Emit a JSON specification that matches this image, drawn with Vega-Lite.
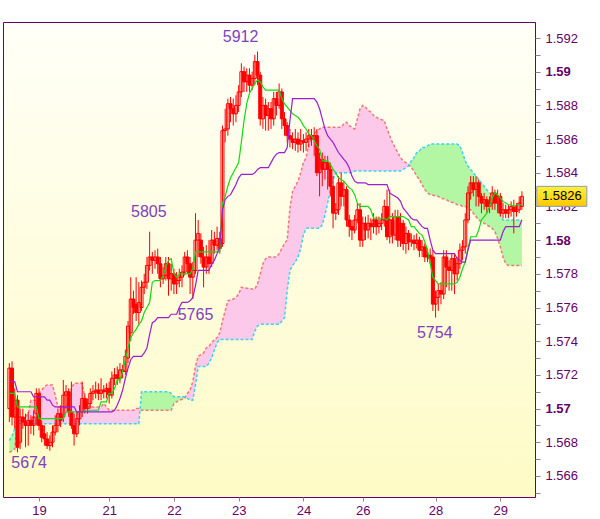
{
"$schema":"https://vega.github.io/schema/vega-lite/v6.json",
"width":532,"height":475,
"autosize":{"type":"none"},
"padding":{"left":3,"top":22,"right":65,"bottom":22},
"background":"#ffffff",
"config":{"view":{"stroke":"#660066","strokeWidth":1,"fill":{"gradient":"linear","x1":0,"y1":0,"x2":0,"y2":1,"stops":[{"offset":0,"color":"#fffff8"},{"offset":1,"color":"#fefbc6"}]}},"font":"Liberation Sans"},
"datasets":{
"bars":[
{"i":0,"o":1.5700,"h":1.5727,"l":1.5692,"c":1.5724,"t":1.5709,"k":1.5716},
{"i":1,"o":1.5724,"h":1.5728,"l":1.5690,"c":1.5695,"t":1.5709,"k":1.5716},
{"i":2,"o":1.5695,"h":1.5712,"l":1.5688,"c":1.5705,"t":1.5709,"k":1.5716},
{"i":3,"o":1.5705,"h":1.5708,"l":1.5674,"c":1.5677,"t":1.5701,"k":1.5710},
{"i":4,"o":1.5680,"h":1.5700,"l":1.5676,"c":1.5695,"t":1.5701,"k":1.5710},
{"i":5,"o":1.5695,"h":1.5700,"l":1.5688,"c":1.5692,"t":1.5701,"k":1.5710},
{"i":6,"o":1.5692,"h":1.5697,"l":1.5677,"c":1.5690,"t":1.5701,"k":1.5710},
{"i":7,"o":1.5690,"h":1.5698,"l":1.5678,"c":1.5693,"t":1.5701,"k":1.5710},
{"i":8,"o":1.5693,"h":1.5696,"l":1.5685,"c":1.5690,"t":1.5701,"k":1.5710},
{"i":9,"o":1.5690,"h":1.5699,"l":1.5684,"c":1.5695,"t":1.5701,"k":1.5707},
{"i":10,"o":1.5697,"h":1.5712,"l":1.5690,"c":1.5709,"t":1.5701,"k":1.5707},
{"i":11,"o":1.5709,"h":1.5712,"l":1.5687,"c":1.5690,"t":1.5694,"k":1.5707},
{"i":12,"o":1.5690,"h":1.5693,"l":1.5680,"c":1.5683,"t":1.5694,"k":1.5707},
{"i":13,"o":1.5685,"h":1.5690,"l":1.5678,"c":1.5682,"t":1.5694,"k":1.5707},
{"i":14,"o":1.5682,"h":1.5686,"l":1.5676,"c":1.5678,"t":1.5694,"k":1.5705},
{"i":15,"o":1.5678,"h":1.5684,"l":1.5675,"c":1.5680,"t":1.5694,"k":1.5705},
{"i":16,"o":1.5680,"h":1.5690,"l":1.5677,"c":1.5686,"t":1.5694,"k":1.5702},
{"i":17,"o":1.5686,"h":1.5696,"l":1.5684,"c":1.5690,"t":1.5694,"k":1.5701},
{"i":18,"o":1.5690,"h":1.5700,"l":1.5686,"c":1.5697,"t":1.5694,"k":1.5701},
{"i":19,"o":1.5697,"h":1.5702,"l":1.5689,"c":1.5693,"t":1.5694,"k":1.5701},
{"i":20,"o":1.5695,"h":1.5717,"l":1.5692,"c":1.5708,"t":1.5694,"k":1.5701},
{"i":21,"o":1.5708,"h":1.5714,"l":1.5700,"c":1.5710,"t":1.5698,"k":1.5701},
{"i":22,"o":1.5710,"h":1.5712,"l":1.5695,"c":1.5698,"t":1.5698,"k":1.5701},
{"i":23,"o":1.5698,"h":1.5716,"l":1.5688,"c":1.5690,"t":1.5698,"k":1.5701},
{"i":24,"o":1.5690,"h":1.5697,"l":1.5678,"c":1.5685,"t":1.5698,"k":1.5701},
{"i":25,"o":1.5685,"h":1.5698,"l":1.5683,"c":1.5694,"t":1.5698,"k":1.5698},
{"i":26,"o":1.5694,"h":1.5702,"l":1.5690,"c":1.5698,"t":1.5698,"k":1.5698},
{"i":27,"o":1.5698,"h":1.5716,"l":1.5695,"c":1.5706,"t":1.5698,"k":1.5698},
{"i":28,"o":1.5706,"h":1.5709,"l":1.5697,"c":1.5700,"t":1.5699,"k":1.5698},
{"i":29,"o":1.5700,"h":1.5706,"l":1.5697,"c":1.5703,"t":1.5699,"k":1.5698},
{"i":30,"o":1.5703,"h":1.5712,"l":1.5700,"c":1.5709,"t":1.5699,"k":1.5698},
{"i":31,"o":1.5709,"h":1.5714,"l":1.5705,"c":1.5710,"t":1.5699,"k":1.5698},
{"i":32,"o":1.5710,"h":1.5716,"l":1.5706,"c":1.5711,"t":1.5699,"k":1.5698},
{"i":33,"o":1.5711,"h":1.5715,"l":1.5705,"c":1.5709,"t":1.5699,"k":1.5698},
{"i":34,"o":1.5709,"h":1.5718,"l":1.5705,"c":1.5711,"t":1.5704,"k":1.5698},
{"i":35,"o":1.5711,"h":1.5714,"l":1.5706,"c":1.5710,"t":1.5704,"k":1.5698},
{"i":36,"o":1.5710,"h":1.5715,"l":1.5706,"c":1.5712,"t":1.5704,"k":1.5698},
{"i":37,"o":1.5712,"h":1.5716,"l":1.5703,"c":1.5708,"t":1.5709,"k":1.5698},
{"i":38,"o":1.5708,"h":1.5722,"l":1.5706,"c":1.5718,"t":1.5709,"k":1.5698},
{"i":39,"o":1.5718,"h":1.5724,"l":1.5714,"c":1.5720,"t":1.5712,"k":1.5699},
{"i":40,"o":1.5720,"h":1.5725,"l":1.5714,"c":1.5718,"t":1.5717,"k":1.5702},
{"i":41,"o":1.5718,"h":1.5727,"l":1.5715,"c":1.5723,"t":1.5717,"k":1.5706},
{"i":42,"o":1.5723,"h":1.5726,"l":1.5718,"c":1.5722,"t":1.5722,"k":1.5711},
{"i":43,"o":1.5722,"h":1.5735,"l":1.5720,"c":1.5731,"t":1.5729,"k":1.5718},
{"i":44,"o":1.5730,"h":1.5752,"l":1.5727,"c":1.5749,"t":1.5736,"k":1.5724},
{"i":45,"o":1.5745,"h":1.5778,"l":1.5740,"c":1.5765,"t":1.5742,"k":1.5729},
{"i":46,"o":1.5765,"h":1.5770,"l":1.5756,"c":1.5760,"t":1.5745,"k":1.5731},
{"i":47,"o":1.5762,"h":1.5778,"l":1.5752,"c":1.5757,"t":1.5747,"k":1.5731},
{"i":48,"o":1.5757,"h":1.5775,"l":1.5750,"c":1.5763,"t":1.5750,"k":1.5731},
{"i":49,"o":1.5760,"h":1.5776,"l":1.5758,"c":1.5772,"t":1.5752,"k":1.5731},
{"i":50,"o":1.5772,"h":1.5780,"l":1.5768,"c":1.5775,"t":1.5757,"k":1.5733},
{"i":51,"o":1.5775,"h":1.5790,"l":1.5771,"c":1.5785,"t":1.5760,"k":1.5736},
{"i":52,"o":1.5785,"h":1.5805,"l":1.5782,"c":1.5790,"t":1.5763,"k":1.5744},
{"i":53,"o":1.5790,"h":1.5793,"l":1.5780,"c":1.5788,"t":1.5775,"k":1.5751},
{"i":54,"o":1.5788,"h":1.5794,"l":1.5783,"c":1.5790,"t":1.5776,"k":1.5752},
{"i":55,"o":1.5790,"h":1.5795,"l":1.5780,"c":1.5786,"t":1.5776,"k":1.5754},
{"i":56,"o":1.5786,"h":1.5790,"l":1.5772,"c":1.5777,"t":1.5776,"k":1.5754},
{"i":57,"o":1.5777,"h":1.5784,"l":1.5774,"c":1.5779,"t":1.5779,"k":1.5754},
{"i":58,"o":1.5779,"h":1.5790,"l":1.5776,"c":1.5786,"t":1.5784,"k":1.5754},
{"i":59,"o":1.5786,"h":1.5790,"l":1.5767,"c":1.5777,"t":1.5788,"k":1.5754},
{"i":60,"o":1.5777,"h":1.5786,"l":1.5770,"c":1.5780,"t":1.5789,"k":1.5756},
{"i":61,"o":1.5780,"h":1.5783,"l":1.5768,"c":1.5774,"t":1.5780,"k":1.5756},
{"i":62,"o":1.5774,"h":1.5781,"l":1.5768,"c":1.5776,"t":1.5778,"k":1.5756},
{"i":63,"o":1.5776,"h":1.5783,"l":1.5772,"c":1.5778,"t":1.5780,"k":1.5760},
{"i":64,"o":1.5778,"h":1.5785,"l":1.5772,"c":1.5781,"t":1.5780,"k":1.5763},
{"i":65,"o":1.5781,"h":1.5793,"l":1.5779,"c":1.5790,"t":1.5780,"k":1.5763},
{"i":66,"o":1.5790,"h":1.5794,"l":1.5780,"c":1.5786,"t":1.5780,"k":1.5763},
{"i":67,"o":1.5786,"h":1.5790,"l":1.5768,"c":1.5778,"t":1.5780,"k":1.5764},
{"i":68,"o":1.5778,"h":1.5787,"l":1.5765,"c":1.5782,"t":1.5783,"k":1.5766},
{"i":69,"o":1.5782,"h":1.5816,"l":1.5780,"c":1.5800,"t":1.5793,"k":1.5773},
{"i":70,"o":1.5800,"h":1.5812,"l":1.5790,"c":1.5804,"t":1.5793,"k":1.5782},
{"i":71,"o":1.5800,"h":1.5804,"l":1.5786,"c":1.5790,"t":1.5793,"k":1.5782},
{"i":72,"o":1.5790,"h":1.5796,"l":1.5772,"c":1.5784,"t":1.5793,"k":1.5782},
{"i":73,"o":1.5784,"h":1.5797,"l":1.5780,"c":1.5790,"t":1.5793,"k":1.5782},
{"i":74,"o":1.5790,"h":1.5800,"l":1.5780,"c":1.5786,"t":1.5793,"k":1.5782},
{"i":75,"o":1.5786,"h":1.5806,"l":1.5784,"c":1.5800,"t":1.5793,"k":1.5786},
{"i":76,"o":1.5800,"h":1.5805,"l":1.5792,"c":1.5797,"t":1.5793,"k":1.5788},
{"i":77,"o":1.5797,"h":1.5808,"l":1.5794,"c":1.5801,"t":1.5793,"k":1.5792},
{"i":78,"o":1.5801,"h":1.5805,"l":1.5792,"c":1.5795,"t":1.5793,"k":1.5796},
{"i":79,"o":1.5798,"h":1.5868,"l":1.5796,"c":1.5865,"t":1.5822,"k":1.5818},
{"i":80,"o":1.5865,"h":1.5878,"l":1.5858,"c":1.5866,"t":1.5826,"k":1.5824},
{"i":81,"o":1.5866,"h":1.5884,"l":1.5862,"c":1.5881,"t":1.5832,"k":1.5826},
{"i":82,"o":1.5881,"h":1.5885,"l":1.5870,"c":1.5878,"t":1.5837,"k":1.5827},
{"i":83,"o":1.5878,"h":1.5884,"l":1.5868,"c":1.5875,"t":1.5840,"k":1.5830},
{"i":84,"o":1.5875,"h":1.5886,"l":1.5870,"c":1.5880,"t":1.5843,"k":1.5833},
{"i":85,"o":1.5880,"h":1.5892,"l":1.5876,"c":1.5888,"t":1.5846,"k":1.5837},
{"i":86,"o":1.5888,"h":1.5905,"l":1.5885,"c":1.5900,"t":1.5858,"k":1.5839},
{"i":87,"o":1.5900,"h":1.5903,"l":1.5888,"c":1.5894,"t":1.5871,"k":1.5839},
{"i":88,"o":1.5894,"h":1.5902,"l":1.5888,"c":1.5898,"t":1.5881,"k":1.5839},
{"i":89,"o":1.5898,"h":1.5902,"l":1.5888,"c":1.5892,"t":1.5887,"k":1.5839},
{"i":90,"o":1.5892,"h":1.5900,"l":1.5889,"c":1.5896,"t":1.5890,"k":1.5839},
{"i":91,"o":1.5896,"h":1.5910,"l":1.5892,"c":1.5906,"t":1.5893,"k":1.5840},
{"i":92,"o":1.5906,"h":1.5912,"l":1.5892,"c":1.5898,"t":1.5895,"k":1.5842},
{"i":93,"o":1.5898,"h":1.5900,"l":1.5868,"c":1.5872,"t":1.5894,"k":1.5843},
{"i":94,"o":1.5872,"h":1.5885,"l":1.5866,"c":1.5880,"t":1.5891,"k":1.5843},
{"i":95,"o":1.5880,"h":1.5884,"l":1.5865,"c":1.5874,"t":1.5889,"k":1.5843},
{"i":96,"o":1.5874,"h":1.5882,"l":1.5865,"c":1.5878,"t":1.5889,"k":1.5843},
{"i":97,"o":1.5878,"h":1.5882,"l":1.5866,"c":1.5872,"t":1.5889,"k":1.5846},
{"i":98,"o":1.5872,"h":1.5888,"l":1.5868,"c":1.5884,"t":1.5889,"k":1.5849},
{"i":99,"o":1.5884,"h":1.5888,"l":1.5874,"c":1.5880,"t":1.5889,"k":1.5851},
{"i":100,"o":1.5880,"h":1.5893,"l":1.5878,"c":1.5888,"t":1.5889,"k":1.5852},
{"i":101,"o":1.5888,"h":1.5890,"l":1.5866,"c":1.5872,"t":1.5884,"k":1.5852},
{"i":102,"o":1.5872,"h":1.5876,"l":1.5862,"c":1.5868,"t":1.5881,"k":1.5852},
{"i":103,"o":1.5868,"h":1.5870,"l":1.5858,"c":1.5862,"t":1.5879,"k":1.5855},
{"i":104,"o":1.5862,"h":1.5866,"l":1.5855,"c":1.5860,"t":1.5877,"k":1.5871},
{"i":105,"o":1.5860,"h":1.5864,"l":1.5854,"c":1.5858,"t":1.5875,"k":1.5884},
{"i":106,"o":1.5858,"h":1.5866,"l":1.5853,"c":1.5860,"t":1.5874,"k":1.5884},
{"i":107,"o":1.5860,"h":1.5864,"l":1.5852,"c":1.5857,"t":1.5873,"k":1.5884},
{"i":108,"o":1.5857,"h":1.5866,"l":1.5853,"c":1.5859,"t":1.5871,"k":1.5884},
{"i":109,"o":1.5859,"h":1.5863,"l":1.5852,"c":1.5858,"t":1.5868,"k":1.5884},
{"i":110,"o":1.5858,"h":1.5864,"l":1.5853,"c":1.5860,"t":1.5866,"k":1.5884},
{"i":111,"o":1.5860,"h":1.5866,"l":1.5855,"c":1.5862,"t":1.5863,"k":1.5884},
{"i":112,"o":1.5862,"h":1.5866,"l":1.5856,"c":1.5860,"t":1.5862,"k":1.5884},
{"i":113,"o":1.5860,"h":1.5867,"l":1.5850,"c":1.5862,"t":1.5859,"k":1.5884},
{"i":114,"o":1.5862,"h":1.5866,"l":1.5838,"c":1.5840,"t":1.5856,"k":1.5882},
{"i":115,"o":1.5840,"h":1.5852,"l":1.5826,"c":1.5848,"t":1.5854,"k":1.5878},
{"i":116,"o":1.5848,"h":1.5852,"l":1.5832,"c":1.5842,"t":1.5847,"k":1.5872},
{"i":117,"o":1.5842,"h":1.5850,"l":1.5836,"c":1.5846,"t":1.5847,"k":1.5866},
{"i":118,"o":1.5846,"h":1.5850,"l":1.5830,"c":1.5842,"t":1.5847,"k":1.5862},
{"i":119,"o":1.5842,"h":1.5846,"l":1.5826,"c":1.5832,"t":1.5845,"k":1.5860},
{"i":120,"o":1.5832,"h":1.5838,"l":1.5807,"c":1.5816,"t":1.5842,"k":1.5858},
{"i":121,"o":1.5816,"h":1.5822,"l":1.5812,"c":1.5818,"t":1.5840,"k":1.5855},
{"i":122,"o":1.5818,"h":1.5838,"l":1.5815,"c":1.5834,"t":1.5837,"k":1.5852},
{"i":123,"o":1.5834,"h":1.5840,"l":1.5820,"c":1.5826,"t":1.5836,"k":1.5850},
{"i":124,"o":1.5826,"h":1.5835,"l":1.5820,"c":1.5830,"t":1.5835,"k":1.5848},
{"i":125,"o":1.5830,"h":1.5832,"l":1.5808,"c":1.5812,"t":1.5833,"k":1.5846},
{"i":126,"o":1.5812,"h":1.5815,"l":1.5802,"c":1.5808,"t":1.5831,"k":1.5843},
{"i":127,"o":1.5808,"h":1.5812,"l":1.5800,"c":1.5806,"t":1.5830,"k":1.5838},
{"i":128,"o":1.5806,"h":1.5815,"l":1.5804,"c":1.5812,"t":1.5827,"k":1.5835},
{"i":129,"o":1.5812,"h":1.5822,"l":1.5810,"c":1.5818,"t":1.5822,"k":1.5834},
{"i":130,"o":1.5818,"h":1.5822,"l":1.5796,"c":1.5800,"t":1.5820,"k":1.5834},
{"i":131,"o":1.5800,"h":1.5814,"l":1.5796,"c":1.5810,"t":1.5820,"k":1.5834},
{"i":132,"o":1.5810,"h":1.5814,"l":1.5800,"c":1.5806,"t":1.5820,"k":1.5834},
{"i":133,"o":1.5806,"h":1.5815,"l":1.5801,"c":1.5810,"t":1.5820,"k":1.5833},
{"i":134,"o":1.5810,"h":1.5813,"l":1.5800,"c":1.5808,"t":1.5818,"k":1.5833},
{"i":135,"o":1.5808,"h":1.5816,"l":1.5804,"c":1.5812,"t":1.5813,"k":1.5833},
{"i":136,"o":1.5812,"h":1.5814,"l":1.5803,"c":1.5808,"t":1.5813,"k":1.5833},
{"i":137,"o":1.5808,"h":1.5814,"l":1.5804,"c":1.5810,"t":1.5813,"k":1.5833},
{"i":138,"o":1.5810,"h":1.5816,"l":1.5806,"c":1.5812,"t":1.5813,"k":1.5833},
{"i":139,"o":1.5812,"h":1.5824,"l":1.5808,"c":1.5820,"t":1.5813,"k":1.5833},
{"i":140,"o":1.5820,"h":1.5830,"l":1.5800,"c":1.5802,"t":1.5812,"k":1.5833},
{"i":141,"o":1.5802,"h":1.5830,"l":1.5798,"c":1.5812,"t":1.5814,"k":1.5828},
{"i":142,"o":1.5812,"h":1.5816,"l":1.5798,"c":1.5803,"t":1.5814,"k":1.5827},
{"i":143,"o":1.5803,"h":1.5818,"l":1.5800,"c":1.5814,"t":1.5814,"k":1.5826},
{"i":144,"o":1.5814,"h":1.5818,"l":1.5796,"c":1.5800,"t":1.5814,"k":1.5825},
{"i":145,"o":1.5800,"h":1.5816,"l":1.5796,"c":1.5810,"t":1.5814,"k":1.5823},
{"i":146,"o":1.5810,"h":1.5812,"l":1.5794,"c":1.5798,"t":1.5814,"k":1.5819},
{"i":147,"o":1.5798,"h":1.5808,"l":1.5792,"c":1.5804,"t":1.5813,"k":1.5817},
{"i":148,"o":1.5804,"h":1.5806,"l":1.5794,"c":1.5799,"t":1.5812,"k":1.5815},
{"i":149,"o":1.5799,"h":1.5804,"l":1.5796,"c":1.5800,"t":1.5808,"k":1.5813},
{"i":150,"o":1.5800,"h":1.5803,"l":1.5794,"c":1.5798,"t":1.5808,"k":1.5812},
{"i":151,"o":1.5798,"h":1.5804,"l":1.5795,"c":1.5800,"t":1.5806,"k":1.5812},
{"i":152,"o":1.5800,"h":1.5802,"l":1.5790,"c":1.5794,"t":1.5804,"k":1.5810},
{"i":153,"o":1.5794,"h":1.5800,"l":1.5790,"c":1.5796,"t":1.5803,"k":1.5808},
{"i":154,"o":1.5796,"h":1.5798,"l":1.5787,"c":1.5790,"t":1.5799,"k":1.5807},
{"i":155,"o":1.5790,"h":1.5795,"l":1.5787,"c":1.5791,"t":1.5794,"k":1.5807},
{"i":156,"o":1.5791,"h":1.5795,"l":1.5786,"c":1.5789,"t":1.5786,"k":1.5800},
{"i":157,"o":1.5790,"h":1.5794,"l":1.5758,"c":1.5762,"t":1.5778,"k":1.5794},
{"i":158,"o":1.5762,"h":1.5770,"l":1.5754,"c":1.5766,"t":1.5776,"k":1.5792},
{"i":159,"o":1.5766,"h":1.5774,"l":1.5758,"c":1.5770,"t":1.5774,"k":1.5792},
{"i":160,"o":1.5770,"h":1.5775,"l":1.5762,"c":1.5768,"t":1.5774,"k":1.5792},
{"i":161,"o":1.5768,"h":1.5794,"l":1.5765,"c":1.5790,"t":1.5774,"k":1.5792},
{"i":162,"o":1.5790,"h":1.5794,"l":1.5772,"c":1.5784,"t":1.5774,"k":1.5792},
{"i":163,"o":1.5784,"h":1.5788,"l":1.5770,"c":1.5782,"t":1.5774,"k":1.5792},
{"i":164,"o":1.5782,"h":1.5792,"l":1.5770,"c":1.5789,"t":1.5774,"k":1.5792},
{"i":165,"o":1.5789,"h":1.5792,"l":1.5768,"c":1.5780,"t":1.5774,"k":1.5792},
{"i":166,"o":1.5780,"h":1.5790,"l":1.5776,"c":1.5786,"t":1.5775,"k":1.5789},
{"i":167,"o":1.5786,"h":1.5798,"l":1.5783,"c":1.5794,"t":1.5778,"k":1.5788},
{"i":168,"o":1.5794,"h":1.5800,"l":1.5788,"c":1.5796,"t":1.5783,"k":1.5787},
{"i":169,"o":1.5796,"h":1.5816,"l":1.5792,"c":1.5812,"t":1.5787,"k":1.5787},
{"i":170,"o":1.5812,"h":1.5832,"l":1.5810,"c":1.5828,"t":1.5795,"k":1.5794},
{"i":171,"o":1.5828,"h":1.5838,"l":1.5824,"c":1.5834,"t":1.5802,"k":1.5800},
{"i":172,"o":1.5834,"h":1.5838,"l":1.5826,"c":1.5830,"t":1.5802,"k":1.5800},
{"i":173,"o":1.5830,"h":1.5838,"l":1.5820,"c":1.5834,"t":1.5802,"k":1.5800},
{"i":174,"o":1.5834,"h":1.5836,"l":1.5820,"c":1.5826,"t":1.5806,"k":1.5800},
{"i":175,"o":1.5826,"h":1.5828,"l":1.5816,"c":1.5822,"t":1.5812,"k":1.5800},
{"i":176,"o":1.5822,"h":1.5828,"l":1.5818,"c":1.5824,"t":1.5814,"k":1.5800},
{"i":177,"o":1.5824,"h":1.5826,"l":1.5816,"c":1.5820,"t":1.5816,"k":1.5800},
{"i":178,"o":1.5820,"h":1.5826,"l":1.5816,"c":1.5822,"t":1.5820,"k":1.5800},
{"i":179,"o":1.5822,"h":1.5832,"l":1.5818,"c":1.5828,"t":1.5825,"k":1.5800},
{"i":180,"o":1.5828,"h":1.5830,"l":1.5818,"c":1.5822,"t":1.5828,"k":1.5800},
{"i":181,"o":1.5822,"h":1.5830,"l":1.5816,"c":1.5826,"t":1.5827,"k":1.5800},
{"i":182,"o":1.5826,"h":1.5828,"l":1.5814,"c":1.5816,"t":1.5825,"k":1.5800},
{"i":183,"o":1.5816,"h":1.5822,"l":1.5813,"c":1.5818,"t":1.5823,"k":1.5805},
{"i":184,"o":1.5818,"h":1.5821,"l":1.5813,"c":1.5816,"t":1.5822,"k":1.5808},
{"i":185,"o":1.5816,"h":1.5821,"l":1.5813,"c":1.5818,"t":1.5821,"k":1.5808},
{"i":186,"o":1.5818,"h":1.5823,"l":1.5814,"c":1.5820,"t":1.5821,"k":1.5808},
{"i":187,"o":1.5820,"h":1.5824,"l":1.5804,"c":1.5817,"t":1.5820,"k":1.5808},
{"i":188,"o":1.5817,"h":1.5822,"l":1.5814,"c":1.5818,"t":1.5821,"k":1.5808},
{"i":189,"o":1.5818,"h":1.5826,"l":1.5816,"c":1.5822,"t":1.5821,"k":1.5808},
{"i":190,"o":1.5820,"h":1.5829,"l":1.5818,"c":1.5826,"t":1.5821,"k":1.5812}
],
"cloud":[
{"i":0,"a":1.5681,"b":1.5674,"s":"g0"},
{"i":1,"a":1.5684,"b":1.5675,"s":"g0"},
{"i":2,"a":1.5688,"b":1.5676,"s":"g0"},
{"i":2.86,"a":1.56906,"b":1.56906,"s":"g0"},
{"i":2.86,"a":1.56906,"b":1.56906,"s":"p1"},
{"i":3,"a":1.5691,"b":1.5693,"s":"p1"},
{"i":5,"a":1.5691,"b":1.5693,"s":"p1"},
{"i":6,"a":1.5691,"b":1.5695,"s":"p1"},
{"i":7,"a":1.5691,"b":1.5697,"s":"p1"},
{"i":8,"a":1.5691,"b":1.5705,"s":"p1"},
{"i":10,"a":1.5691,"b":1.5705,"s":"p1"},
{"i":11,"a":1.5691,"b":1.5709,"s":"p1"},
{"i":12,"a":1.5691,"b":1.5711,"s":"p1"},
{"i":13,"a":1.5691,"b":1.5713,"s":"p1"},
{"i":14,"a":1.5691,"b":1.5714,"s":"p1"},
{"i":16,"a":1.5691,"b":1.5714,"s":"p1"},
{"i":17,"a":1.5691,"b":1.5708,"s":"p1"},
{"i":18,"a":1.5691,"b":1.5701,"s":"p1"},
{"i":21,"a":1.5691,"b":1.5701,"s":"p1"},
{"i":22,"a":1.5691,"b":1.5703,"s":"p1"},
{"i":23,"a":1.5691,"b":1.5712,"s":"p1"},
{"i":24,"a":1.5691,"b":1.5715,"s":"p1"},
{"i":27,"a":1.5691,"b":1.5715,"s":"p1"},
{"i":28,"a":1.5691,"b":1.5706,"s":"p1"},
{"i":29,"a":1.5691,"b":1.5701,"s":"p1"},
{"i":34,"a":1.5691,"b":1.5701,"s":"p1"},
{"i":35,"a":1.5691,"b":1.5703,"s":"p1"},
{"i":36,"a":1.5691,"b":1.5701,"s":"p1"},
{"i":37,"a":1.5691,"b":1.5699,"s":"p1"},
{"i":46,"a":1.5691,"b":1.5699,"s":"p1"},
{"i":47,"a":1.5691,"b":1.5700,"s":"p1"},
{"i":48,"a":1.5691,"b":1.5700,"s":"p1"},
{"i":48.45,"a":1.569955,"b":1.569955,"s":"p1"},
{"i":48.45,"a":1.569955,"b":1.569955,"s":"g2"},
{"i":49,"a":1.5710,"b":1.5699,"s":"g2"},
{"i":59,"a":1.5710,"b":1.5699,"s":"g2"},
{"i":60,"a":1.5709,"b":1.5699,"s":"g2"},
{"i":61,"a":1.5707,"b":1.5703,"s":"g2"},
{"i":62,"a":1.5707,"b":1.5704,"s":"g2"},
{"i":63,"a":1.5707,"b":1.5705,"s":"g2"},
{"i":65,"a":1.5707,"b":1.5706,"s":"g2"},
{"i":65.25,"a":1.570675,"b":1.570675,"s":"g2"},
{"i":65.25,"a":1.570675,"b":1.570675,"s":"p3"},
{"i":66,"a":1.5706,"b":1.5709,"s":"p3"},
{"i":67,"a":1.5705,"b":1.5711,"s":"p3"},
{"i":68,"a":1.5705,"b":1.5716,"s":"p3"},
{"i":69,"a":1.5714,"b":1.5725,"s":"p3"},
{"i":70,"a":1.5725,"b":1.5731,"s":"p3"},
{"i":71,"a":1.5725,"b":1.5732,"s":"p3"},
{"i":72,"a":1.5725,"b":1.5733,"s":"p3"},
{"i":73,"a":1.5725,"b":1.5736,"s":"p3"},
{"i":74,"a":1.5727,"b":1.5737,"s":"p3"},
{"i":75,"a":1.5730,"b":1.5739,"s":"p3"},
{"i":76,"a":1.5735,"b":1.5741,"s":"p3"},
{"i":77,"a":1.5739,"b":1.5742,"s":"p3"},
{"i":78,"a":1.5741,"b":1.5745,"s":"p3"},
{"i":79,"a":1.5741,"b":1.5752,"s":"p3"},
{"i":80,"a":1.5741,"b":1.5758,"s":"p3"},
{"i":81,"a":1.5741,"b":1.5764,"s":"p3"},
{"i":83,"a":1.5741,"b":1.5765,"s":"p3"},
{"i":84,"a":1.5741,"b":1.5766,"s":"p3"},
{"i":85,"a":1.5741,"b":1.5768,"s":"p3"},
{"i":86,"a":1.5741,"b":1.5772,"s":"p3"},
{"i":90,"a":1.5741,"b":1.5771,"s":"p3"},
{"i":91,"a":1.5746,"b":1.5771,"s":"p3"},
{"i":92,"a":1.5749,"b":1.5774,"s":"p3"},
{"i":93,"a":1.5750,"b":1.5780,"s":"p3"},
{"i":94,"a":1.5750,"b":1.5786,"s":"p3"},
{"i":95,"a":1.5750,"b":1.5789,"s":"p3"},
{"i":96,"a":1.5750,"b":1.5790,"s":"p3"},
{"i":99,"a":1.5750,"b":1.5790,"s":"p3"},
{"i":100,"a":1.5750,"b":1.5792,"s":"p3"},
{"i":101,"a":1.5752,"b":1.5795,"s":"p3"},
{"i":102,"a":1.5754,"b":1.5798,"s":"p3"},
{"i":103,"a":1.5770,"b":1.5800,"s":"p3"},
{"i":104,"a":1.5782,"b":1.5819,"s":"p3"},
{"i":105,"a":1.5785,"b":1.5829,"s":"p3"},
{"i":106,"a":1.5787,"b":1.5832,"s":"p3"},
{"i":107,"a":1.5790,"b":1.5835,"s":"p3"},
{"i":108,"a":1.5795,"b":1.5840,"s":"p3"},
{"i":109,"a":1.5803,"b":1.5846,"s":"p3"},
{"i":110,"a":1.5807,"b":1.5849,"s":"p3"},
{"i":111,"a":1.5807,"b":1.5857,"s":"p3"},
{"i":112,"a":1.5807,"b":1.5860,"s":"p3"},
{"i":113,"a":1.5807,"b":1.5863,"s":"p3"},
{"i":114,"a":1.5807,"b":1.5865,"s":"p3"},
{"i":115,"a":1.5807,"b":1.5866,"s":"p3"},
{"i":116,"a":1.5809,"b":1.5867,"s":"p3"},
{"i":117,"a":1.5815,"b":1.5867,"s":"p3"},
{"i":118,"a":1.5822,"b":1.5867,"s":"p3"},
{"i":119,"a":1.5830,"b":1.5867,"s":"p3"},
{"i":120,"a":1.5836,"b":1.5867,"s":"p3"},
{"i":121,"a":1.5840,"b":1.5867,"s":"p3"},
{"i":123,"a":1.5840,"b":1.5867,"s":"p3"},
{"i":124,"a":1.5840,"b":1.5869,"s":"p3"},
{"i":125,"a":1.5840,"b":1.5870,"s":"p3"},
{"i":126,"a":1.5840,"b":1.5868,"s":"p3"},
{"i":127,"a":1.5840,"b":1.5867,"s":"p3"},
{"i":128,"a":1.5841,"b":1.5866,"s":"p3"},
{"i":129,"a":1.5841,"b":1.5872,"s":"p3"},
{"i":130,"a":1.5841,"b":1.5878,"s":"p3"},
{"i":131,"a":1.5841,"b":1.5880,"s":"p3"},
{"i":132,"a":1.5841,"b":1.5879,"s":"p3"},
{"i":133,"a":1.5841,"b":1.5877,"s":"p3"},
{"i":134,"a":1.5841,"b":1.5876,"s":"p3"},
{"i":135,"a":1.5841,"b":1.5874,"s":"p3"},
{"i":136,"a":1.5841,"b":1.5873,"s":"p3"},
{"i":137,"a":1.5841,"b":1.5872,"s":"p3"},
{"i":139,"a":1.5841,"b":1.5871,"s":"p3"},
{"i":140,"a":1.5841,"b":1.5866,"s":"p3"},
{"i":141,"a":1.5841,"b":1.5862,"s":"p3"},
{"i":142,"a":1.5841,"b":1.5858,"s":"p3"},
{"i":143,"a":1.5841,"b":1.5855,"s":"p3"},
{"i":144,"a":1.5841,"b":1.5852,"s":"p3"},
{"i":145,"a":1.5841,"b":1.5849,"s":"p3"},
{"i":146,"a":1.5842,"b":1.5847,"s":"p3"},
{"i":147,"a":1.5843,"b":1.5846,"s":"p3"},
{"i":148,"a":1.5844,"b":1.5845,"s":"p3"},
{"i":148.2,"a":1.58446,"b":1.58446,"s":"p3"},
{"i":148.2,"a":1.58446,"b":1.58446,"s":"g4"},
{"i":149,"a":1.5847,"b":1.5843,"s":"g4"},
{"i":150,"a":1.5849,"b":1.5841,"s":"g4"},
{"i":151,"a":1.5852,"b":1.5838,"s":"g4"},
{"i":152,"a":1.5853,"b":1.5836,"s":"g4"},
{"i":153,"a":1.5855,"b":1.5833,"s":"g4"},
{"i":154,"a":1.5855,"b":1.5830,"s":"g4"},
{"i":155,"a":1.5856,"b":1.5828,"s":"g4"},
{"i":156,"a":1.5857,"b":1.5827,"s":"g4"},
{"i":159,"a":1.5857,"b":1.5826,"s":"g4"},
{"i":160,"a":1.5857,"b":1.5825,"s":"g4"},
{"i":162,"a":1.5857,"b":1.5824,"s":"g4"},
{"i":163,"a":1.5857,"b":1.5823,"s":"g4"},
{"i":165,"a":1.5857,"b":1.5822,"s":"g4"},
{"i":166,"a":1.5857,"b":1.5821,"s":"g4"},
{"i":167,"a":1.5856,"b":1.5821,"s":"g4"},
{"i":168,"a":1.5852,"b":1.5820,"s":"g4"},
{"i":169,"a":1.5847,"b":1.5820,"s":"g4"},
{"i":170,"a":1.5844,"b":1.5819,"s":"g4"},
{"i":171,"a":1.5842,"b":1.5818,"s":"g4"},
{"i":172,"a":1.5840,"b":1.5816,"s":"g4"},
{"i":173,"a":1.5838,"b":1.5814,"s":"g4"},
{"i":174,"a":1.5836,"b":1.5812,"s":"g4"},
{"i":175,"a":1.5834,"b":1.5811,"s":"g4"},
{"i":176,"a":1.5832,"b":1.5810,"s":"g4"},
{"i":177,"a":1.5830,"b":1.5809,"s":"g4"},
{"i":178,"a":1.5828,"b":1.5808,"s":"g4"},
{"i":179,"a":1.5827,"b":1.5807,"s":"g4"},
{"i":180,"a":1.5826,"b":1.5805,"s":"g4"},
{"i":181,"a":1.5822,"b":1.5801,"s":"g4"},
{"i":182,"a":1.5815,"b":1.5796,"s":"g4"},
{"i":183,"a":1.5812,"b":1.5790,"s":"g4"},
{"i":184,"a":1.5812,"b":1.5786,"s":"g4"},
{"i":185,"a":1.5812,"b":1.5785,"s":"g4"},
{"i":190,"a":1.5812,"b":1.5785,"s":"g4"}
],
"notes":[
{"i":7.3,"p":1.56677,"t":"5674"},
{"i":51.7,"p":1.58166,"t":"5805"},
{"i":69.0,"p":1.57555,"t":"5765"},
{"i":85.7,"p":1.59205,"t":"5912"},
{"i":157.7,"p":1.57448,"t":"5754"}
],
"last":[{"i":204.8,"p":1.5826,"t":"1.5826"}]
},
"encoding":{
"x":{"field":"i","type":"quantitative","title":null,"scale":{"domain":[-0.5,193],"nice":false,"zero":false},
"axis":{"values":[11,37,61,85,109,131,158,182],"tickCount":40,"labelExpr":"datum.value==11?'19':datum.value==37?'21':datum.value==61?'22':datum.value==85?'23':datum.value==109?'24':datum.value==131?'26':datum.value==158?'28':'29'","grid":false,"domain":false,"ticks":true,"tickSize":4,"tickColor":"#9a7a9a","labelColor":"#660066","labelFont":"Liberation Sans","labelFontSize":13,"labelPadding":3,"labelOverlap":false}}
},
"layer":[
{"data":{"name":"cloud"},"mark":{"type":"area","opacity":1},
"encoding":{
"y":{"field":"a","type":"quantitative","title":null,"scale":{"domain":[1.56475,1.59295],"nice":false,"zero":false},
"axis":{"orient":"right","tickCount":60,"values":[1.565,1.566,1.567,1.568,1.569,1.57,1.571,1.572,1.573,1.574,1.575,1.576,1.577,1.578,1.579,1.58,1.581,1.582,1.583,1.584,1.585,1.586,1.587,1.588,1.589,1.59,1.591,1.592],
"labelExpr":"round(datum.value*1000)%2==0?format(datum.value,'.4~r'):''",
"labelFontWeight":{"condition":{"test":"round(datum.value*1000)%10==0","value":"bold"},"value":"normal"},
"labelOverlap":false,"labelFlush":false,
"grid":false,"domain":false,"tickSize":5,"tickColor":"#9a7a9a","labelColor":"#660066","labelFont":"Liberation Sans","labelFontSize":13,"labelPadding":5}},
"y2":{"field":"b"},
"color":{"field":"s","type":"nominal","scale":{"domain":["g0","p1","g2","p3","g4"],"range":["#b3f6a3","#fcc9ea","#b3f6a3","#fcc9ea","#b3f6a3"]},"legend":null}}},
{"data":{"name":"cloud"},"mark":{"type":"line","color":"#f07878","strokeDash":[3,2],"strokeWidth":1.5},
"encoding":{"y":{"field":"b","type":"quantitative","title":null,"scale":{"domain":[1.56475,1.59295],"nice":false,"zero":false}}}},
{"data":{"name":"cloud"},"mark":{"type":"line","color":"#38d4f0","strokeDash":[3,2],"strokeWidth":1.5},
"encoding":{"y":{"field":"a","type":"quantitative","title":null,"scale":{"domain":[1.56475,1.59295],"nice":false,"zero":false}}}},
{"data":{"name":"bars"},"mark":{"type":"rule","color":"#ff0000","strokeWidth":1},
"encoding":{"y":{"field":"l","type":"quantitative","title":null,"scale":{"domain":[1.56475,1.59295],"nice":false,"zero":false}},"y2":{"field":"h"}}},
{"data":{"name":"bars"},"mark":{"type":"bar","width":3,"stroke":"#ff0000","strokeWidth":1},
"encoding":{"y":{"field":"o","type":"quantitative","title":null,"scale":{"domain":[1.56475,1.59295],"nice":false,"zero":false}},"y2":{"field":"c"},
"fill":{"condition":{"test":"datum.c < datum.o","value":"#ff0000"},"value":"transparent"}}},
{"data":{"name":"bars"},"mark":{"type":"line","color":"#14d814","strokeWidth":1.2},
"encoding":{"y":{"field":"t","type":"quantitative","title":null,"scale":{"domain":[1.56475,1.59295],"nice":false,"zero":false}}}},
{"data":{"name":"bars"},"mark":{"type":"line","color":"#9a1fd0","strokeWidth":1.2},
"encoding":{"y":{"field":"k","type":"quantitative","title":null,"scale":{"domain":[1.56475,1.59295],"nice":false,"zero":false}}}},
{"data":{"name":"notes"},"mark":{"type":"text","font":"Liberation Sans","fontSize":16,"color":"#7f3fbf","align":"center","baseline":"middle"},
"encoding":{"y":{"field":"p","type":"quantitative","title":null,"scale":{"domain":[1.56475,1.59295],"nice":false,"zero":false}},"text":{"field":"t"}}},
{"data":{"name":"last"},"mark":{"type":"point","shape":"M-1,-0.4L1,-0.4L1,0.4L-1,0.4Z","size":2500,"filled":true,"opacity":1,
"fill":{"gradient":"linear","x1":0,"y1":0,"x2":0,"y2":1,"stops":[{"offset":0,"color":"#fff23a"},{"offset":1,"color":"#ffc800"}]},"stroke":"#8b9cb0","strokeWidth":1},
"encoding":{"y":{"field":"p","type":"quantitative","title":null,"scale":{"domain":[1.56475,1.59295],"nice":false,"zero":false}}}},
{"data":{"name":"last"},"mark":{"type":"text","font":"Liberation Sans","fontSize":13,"color":"#000000","align":"center","baseline":"middle"},
"encoding":{"y":{"field":"p","type":"quantitative","title":null,"scale":{"domain":[1.56475,1.59295],"nice":false,"zero":false}},"text":{"field":"t"}}}
]
}
